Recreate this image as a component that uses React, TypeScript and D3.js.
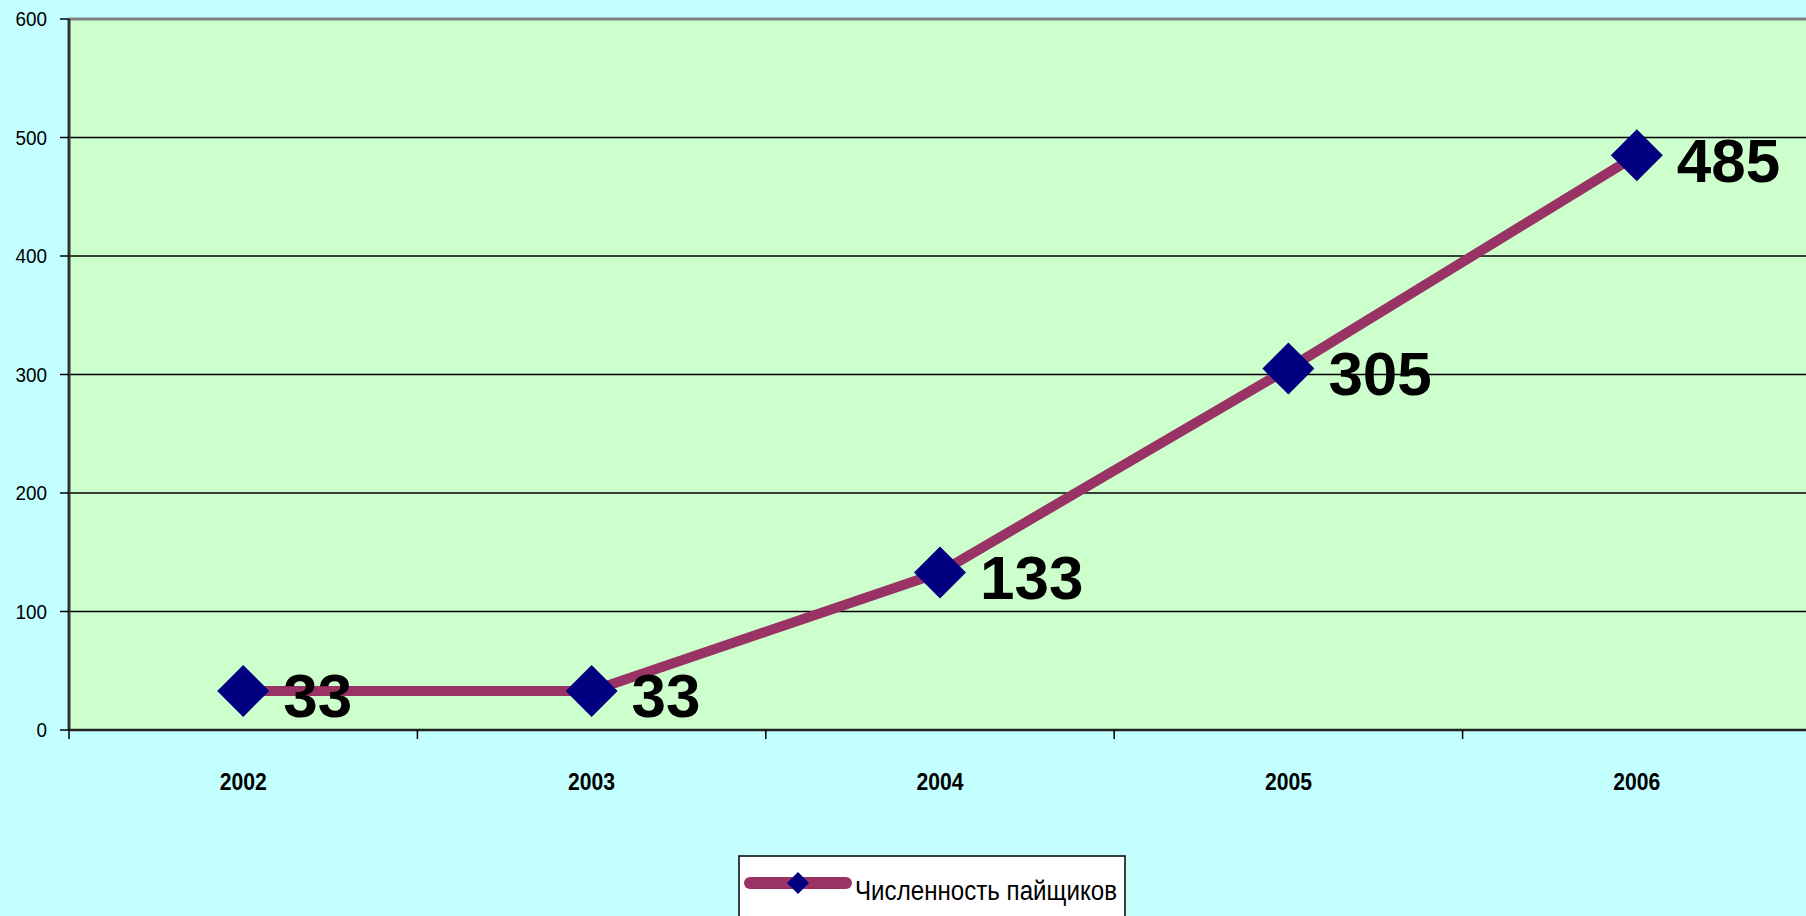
import React from "react";
import * as d3 from "d3";

const years = ["2002", "2003", "2004", "2005", "2006"];
const members = [33, 33, 133, 305, 485];
const yTicks = [0, 100, 200, 300, 400, 500, 600];
const seriesName = "Численность пайщиков";

const W = 1806;
const H = 916;
const left = 69;
const right = 1811;
const top = 19;
const bottom = 730;

const sans = "'Liberation Sans', Arial, sans-serif";

export default function App() {
  const x = d3.scaleBand<string>().domain(years).range([left, right]);
  const bw = x.bandwidth();
  const cx = (d: string) => (x(d) as number) + bw / 2;
  const y = d3.scaleLinear().domain([0, 600]).range([bottom, top]);

  const line = d3
    .line<number>()
    .x((_, i) => cx(years[i]))
    .y((v) => y(v));

  const diamond = (px: number, py: number, r: number) =>
    `M${px},${py - r}L${px + r},${py}L${px},${py + r}L${px - r},${py}Z`;

  const boundaries = years.map((d) => x(d) as number).concat([right]);

  return (
    <svg
      width={W}
      height={H}
      style={{ position: "absolute", left: 0, top: 0, display: "block" }}
    >
      <rect x={0} y={0} width={W} height={H} fill="#C4FFFF" />
      <rect x={left} y={top} width={right - left} height={bottom - top} fill="#CCFFCC" />
      {yTicks.slice(1, -1).map((t) => (
        <line key={"g" + t} x1={left} x2={right} y1={y(t)} y2={y(t)} stroke="#000" strokeWidth={1.5} />
      ))}
      <line x1={left} x2={right} y1={top} y2={top} stroke="#808080" strokeWidth={3} />
      <line x1={left} x2={left} y1={top} y2={bottom} stroke="#333" strokeWidth={3} />
      <line x1={left} x2={right} y1={bottom} y2={bottom} stroke="#222" strokeWidth={2.5} />
      {yTicks.map((t) => (
        <g key={"t" + t}>
          <line x1={60} x2={left} y1={y(t)} y2={y(t)} stroke="#000" strokeWidth={1.5} />
          <text
            transform={`translate(47,${y(t)}) scale(0.9,1)`}
            dy="0.35em"
            textAnchor="end"
            fontFamily={sans}
            fontSize={21}
            fill="#000"
          >
            {t}
          </text>
        </g>
      ))}
      {boundaries.map((b, i) => (
        <line key={"b" + i} x1={b} x2={b} y1={bottom} y2={bottom + 9} stroke="#000" strokeWidth={1.5} />
      ))}
      {years.map((d) => (
        <text
          key={"x" + d}
          transform={`translate(${cx(d)},790) scale(0.92,1)`}
          textAnchor="middle"
          fontFamily={sans}
          fontWeight="bold"
          fontSize={23}
          fill="#000"
        >
          {d}
        </text>
      ))}
      <path
        d={line(members) as string}
        fill="none"
        stroke="#993366"
        strokeWidth={10}
        strokeLinejoin="round"
      />
      {members.map((v, i) => (
        <path key={"m" + i} d={diamond(cx(years[i]), y(v), 26)} fill="#000080" />
      ))}
      {members.map((v, i) => (
        <text
          key={"l" + i}
          x={cx(years[i]) + 40}
          y={y(v) + 4}
          dy="0.36em"
          fontFamily={sans}
          fontWeight="bold"
          fontSize={62}
          fill="#000"
        >
          {v}
        </text>
      ))}
      <rect x={739} y={856} width={386} height={80} fill="#FFFFFF" stroke="#000" strokeWidth={1.5} />
      <line x1={750} x2={846} y1={883} y2={883} stroke="#993366" strokeWidth={12} strokeLinecap="round" />
      <path d={diamond(798, 883, 11)} fill="#000080" />
      <text
        x={855}
        y={900}
        textLength={262}
        lengthAdjust="spacingAndGlyphs"
        fontFamily={sans}
        fontSize={27}
        fill="#000"
      >
        {seriesName}
      </text>
    </svg>
  );
}
